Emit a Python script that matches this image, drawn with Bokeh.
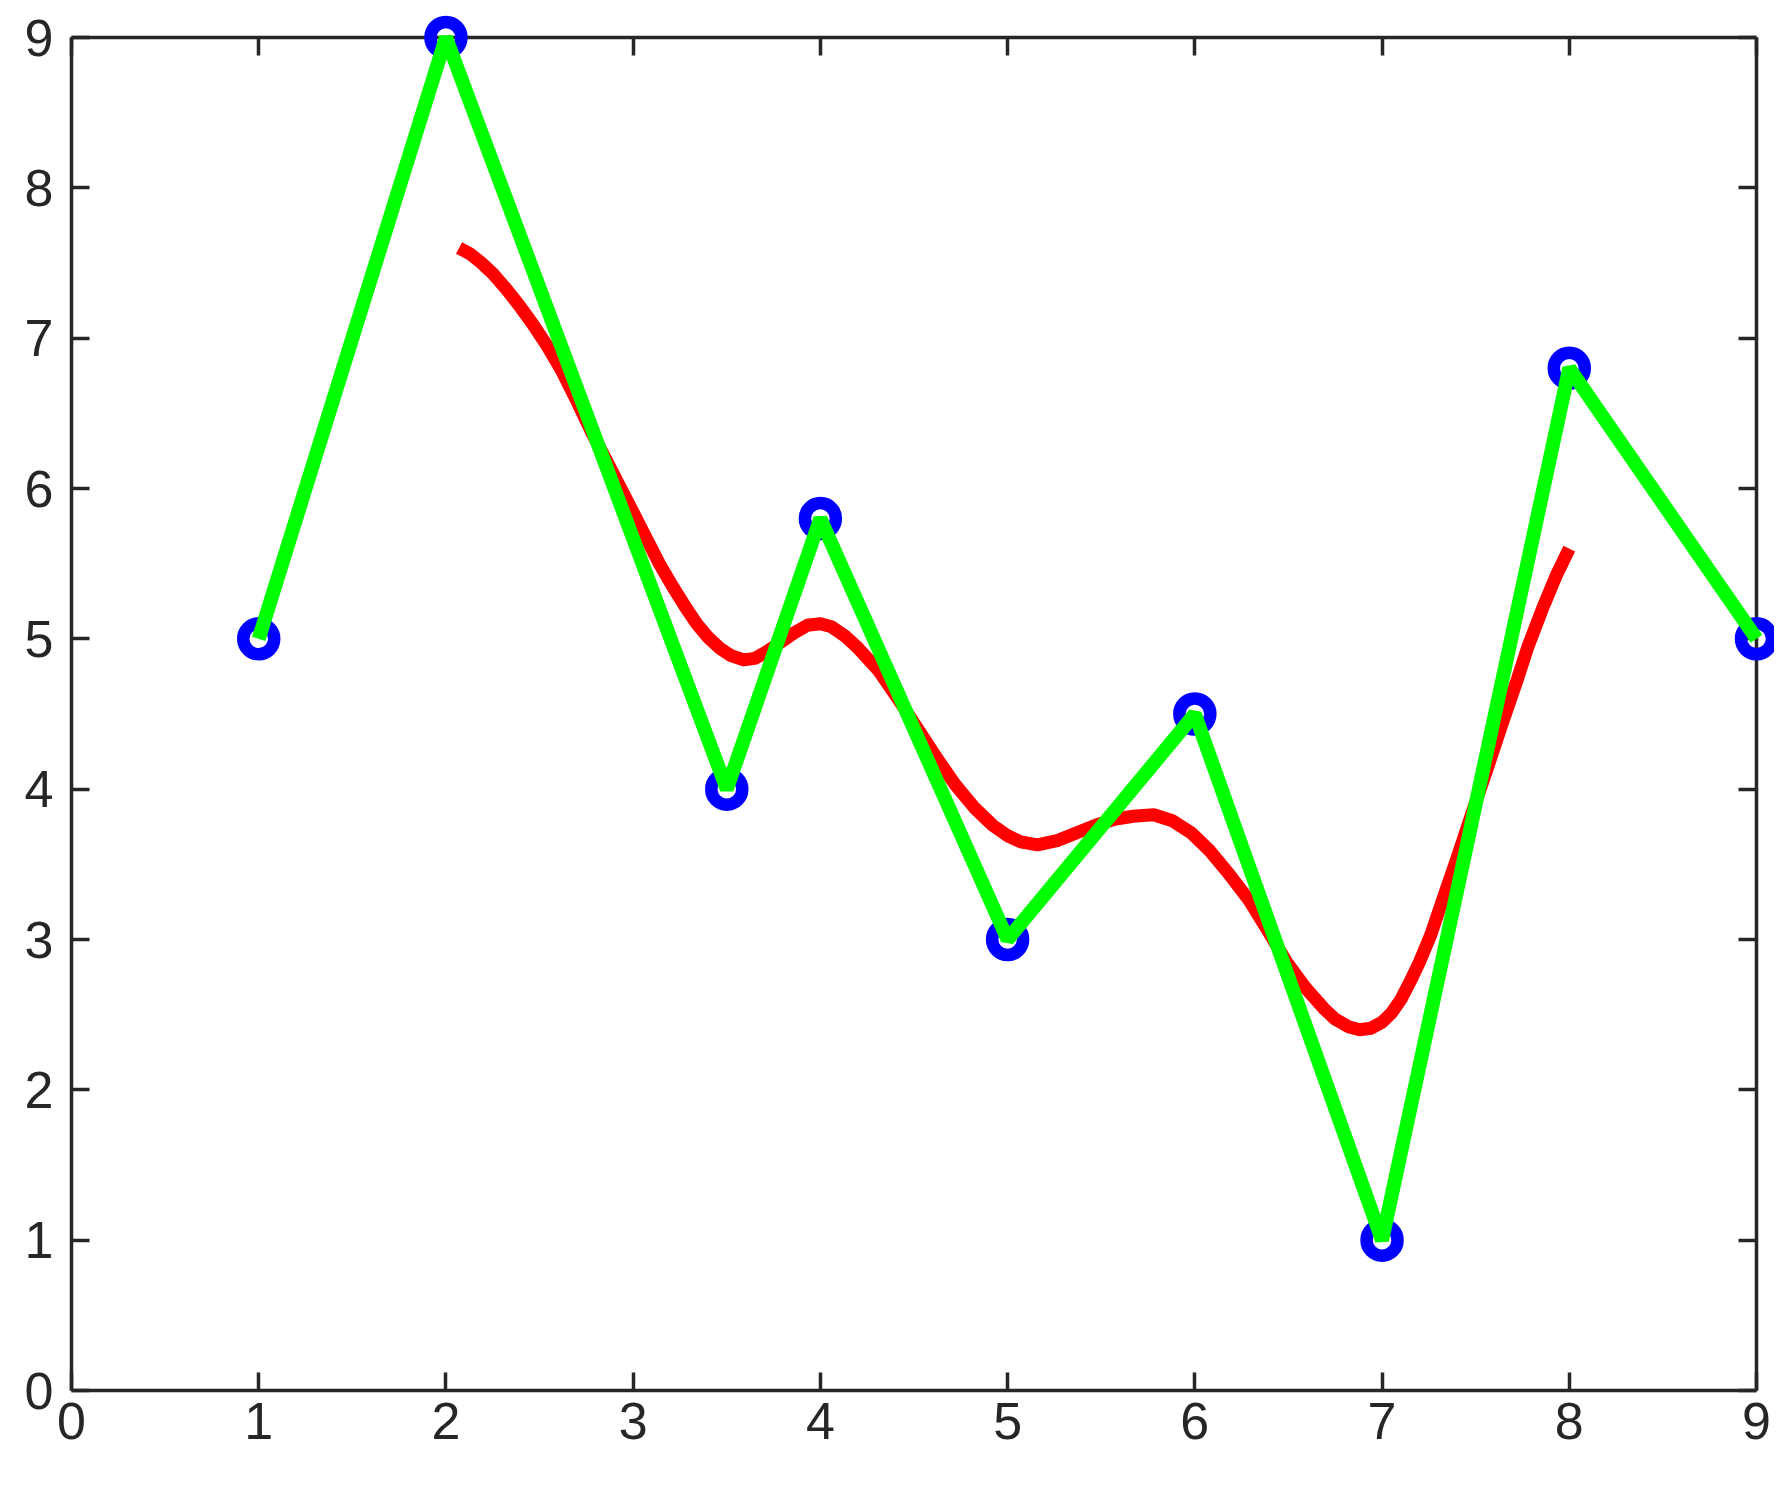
from bokeh.plotting import figure
from bokeh.models import Range1d, LinearAxis, FixedTicker, CustomJSTickFormatter
from bokeh.embed import file_html
from bokeh.resources import INLINE

# data points (blue circles + green polyline)
x_pts = [1, 2, 3.5, 4, 5, 6, 7, 8, 9]
y_pts = [5, 9, 4, 5.8, 3, 4.5, 1, 6.8, 5]

# red smooth curve
x_fit = [2.07, 2.13, 2.19, 2.25, 2.32, 2.39, 2.46, 2.54, 2.62, 2.70, 2.78, 2.86,
         2.93, 3.00, 3.07, 3.14, 3.21, 3.28, 3.34, 3.40, 3.46, 3.52, 3.59, 3.65,
         3.72, 3.79, 3.86, 3.93, 4.00, 4.06, 4.13, 4.20, 4.31, 4.41, 4.51, 4.62,
         4.72, 4.82, 4.92, 5.00, 5.07, 5.16, 5.27, 5.37, 5.47, 5.57, 5.67, 5.78,
         5.88, 5.98, 6.08, 6.18, 6.29, 6.39, 6.49, 6.59, 6.69, 6.75, 6.82, 6.88,
         6.94, 7.00, 7.05, 7.10, 7.15, 7.20, 7.26, 7.32, 7.40, 7.48, 7.56, 7.64,
         7.72, 7.78, 7.86, 7.93, 8.00]
y_fit = [7.60, 7.56, 7.50, 7.43, 7.33, 7.22, 7.10, 6.95, 6.78, 6.58, 6.37, 6.18,
         6.01, 5.84, 5.67, 5.50, 5.35, 5.21, 5.10, 5.01, 4.94, 4.89, 4.86, 4.87,
         4.92, 4.98, 5.04, 5.09, 5.10, 5.08, 5.02, 4.94, 4.79, 4.61, 4.42, 4.21,
         4.03, 3.88, 3.76, 3.69, 3.65, 3.63, 3.66, 3.71, 3.76, 3.80, 3.82, 3.83,
         3.79, 3.71, 3.59, 3.44, 3.26, 3.06, 2.85, 2.68, 2.54, 2.47, 2.42, 2.40,
         2.41, 2.45, 2.51, 2.60, 2.72, 2.85, 3.03, 3.25, 3.54, 3.84, 4.13, 4.43,
         4.72, 4.95, 5.21, 5.42, 5.60]

tick_vals = [0, 1, 2, 3, 4, 5, 6, 7, 8, 9]
tick_labels = [str(t) for t in tick_vals]

AX = "#262626"
FONT = "Liberation Sans"

p = figure(width=1774, height=1474, output_backend="svg", toolbar_location=None,
           x_range=Range1d(0, 9), y_range=Range1d(0, 9),
           min_border_left=71, min_border_right=18, min_border_top=37, min_border_bottom=84,
           x_axis_location=None, y_axis_location=None)
p.grid.visible = False
p.outline_line_color = None
p.background_fill_color = "white"
p.border_fill_color = "white"


def make_axis(labels=True):
    ax = LinearAxis(ticker=FixedTicker(ticks=tick_vals))
    ax.axis_line_color = AX
    ax.axis_line_width = 3.5
    ax.major_tick_line_color = AX
    ax.major_tick_line_width = 3.5
    ax.major_tick_in = 18
    ax.major_tick_out = 0
    ax.minor_tick_line_color = None
    ax.major_label_text_font = FONT
    ax.major_label_text_font_size = "52px"
    ax.major_label_text_color = AX
    if labels:
        ax.major_label_overrides = {t: lab for t, lab in zip(tick_vals, tick_labels)}
    else:
        ax.formatter = CustomJSTickFormatter(code="return ''")
        ax.major_label_standoff = 0
    return ax


xb = make_axis()
xb.major_label_standoff = 12
p.add_layout(xb, "below")
yl = make_axis()
yl.major_label_standoff = 18
yl.major_label_orientation = "horizontal"
p.add_layout(yl, "left")
p.add_layout(make_axis(False), "above")
p.add_layout(make_axis(False), "right")

p.line(x_fit, y_fit, line_color="#FF0000", line_width=13, line_join="round", level="overlay")
p.scatter(x_pts, y_pts, marker="circle", size=31, fill_color=None,
          line_color="#0000FF", line_width=12.5, level="overlay")
p.line(x_pts, y_pts, line_color="#00FF00", line_width=14, level="overlay")

open("out.html", "w").write(file_html(p, INLINE))
